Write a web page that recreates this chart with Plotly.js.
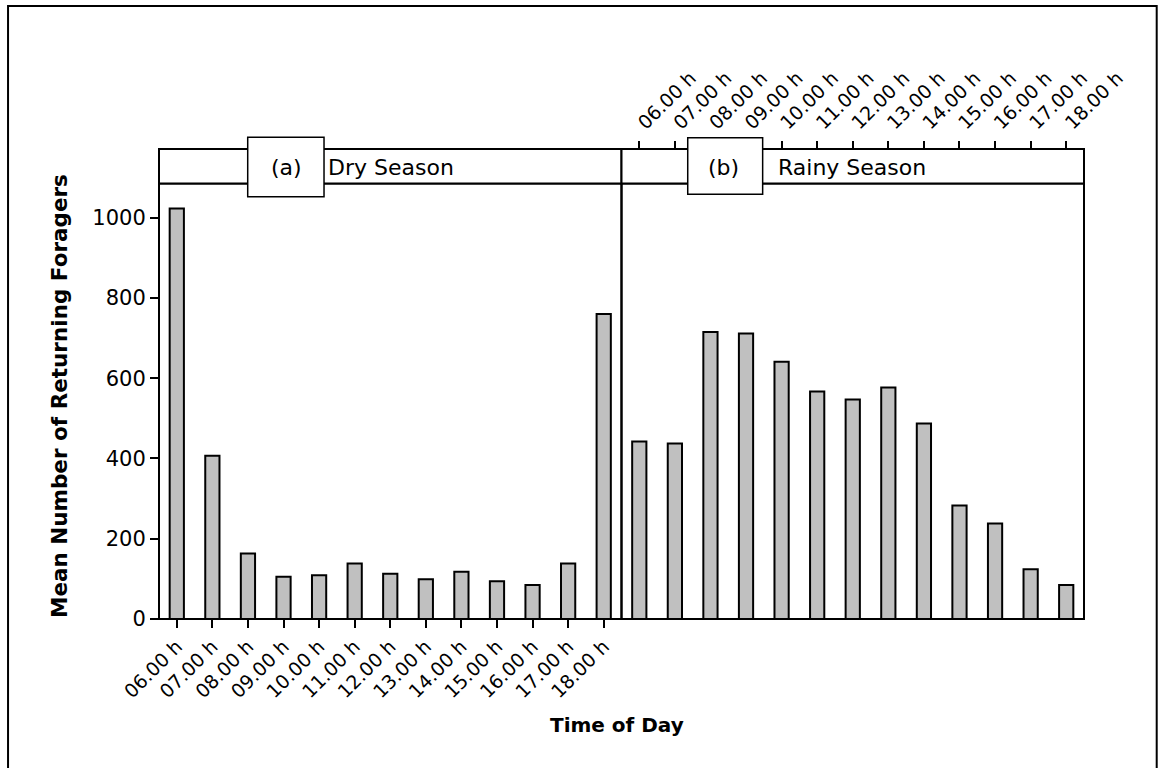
<!DOCTYPE html>
<html>
<head>
<meta charset="utf-8">
<script src="https://cdn.plot.ly/plotly-3.0.1.min.js"></script>
<style>html,body{margin:0;padding:0;background:#fff;}#chart{width:1158px;height:768px;}</style>
</head>
<body>
<div id="chart"></div>
<script>
const hours = ["06.00 h","07.00 h","08.00 h","09.00 h","10.00 h","11.00 h","12.00 h","13.00 h","14.00 h","15.00 h","16.00 h","17.00 h","18.00 h"];
const drySeason = [1023, 407, 163, 105, 109, 138, 113, 99, 118, 94, 85, 138, 760];
const rainySeason = [442, 437, 715, 711, 641, 567, 547, 577, 487, 283, 238, 124, 85];
const yTicks = [0, 200, 400, 600, 800, 1000];
const panelLabels = ["(a)", "(b)"];
const panelTitles = ["Dry Season", "Rainy Season"];

const FONT = "DejaVu Sans, Verdana, sans-serif";
const yTop = 0.9266;

const barStyle = {color: "#c0c0c0", line: {color: "#000", width: 2}};

const traces = [
  {type: "bar", x: hours, y: drySeason, xaxis: "x", yaxis: "y", width: 0.4, marker: barStyle, hoverinfo: "x+y"},
  {type: "bar", x: hours, y: rainySeason, xaxis: "x2", yaxis: "y", width: 0.4, marker: barStyle, hoverinfo: "x+y"}
];

const shapes = [
  {type: "rect", xref: "paper", yref: "paper", x0: -0.1632, x1: 1.0786, y0: -0.4, y1: 1.3043, line: {color: "#000", width: 2}, fillcolor: "rgba(0,0,0,0)", layer: "above"},
  {type: "rect", xref: "paper", yref: "paper", x0: 0, x1: 0.5, y0: 0, y1: yTop, line: {color: "#000", width: 2}, layer: "above"},
  {type: "rect", xref: "paper", yref: "paper", x0: 0.5, x1: 1, y0: 0, y1: yTop, line: {color: "#000", width: 2}, layer: "above"},
  {type: "rect", xref: "paper", yref: "paper", x0: 0, x1: 0.5, y0: yTop, y1: 1, line: {color: "#000", width: 2}, fillcolor: "#fff", layer: "above"},
  {type: "rect", xref: "paper", yref: "paper", x0: 0.5, x1: 1, y0: yTop, y1: 1, line: {color: "#000", width: 2}, fillcolor: "#fff", layer: "above"},
  {type: "rect", xref: "paper", yref: "paper", x0: 0.0959, x1: 0.1784, y0: 0.8985, y1: 1.0249, line: {color: "#000", width: 1.5}, fillcolor: "#fff", layer: "above"},
  {type: "rect", xref: "paper", yref: "paper", x0: 0.5716, x1: 0.6526, y0: 0.9036, y1: 1.0240, line: {color: "#000", width: 1.5}, fillcolor: "#fff", layer: "above"}
];

const annFont = {family: FONT, size: 22, color: "#000"};
const annotations = [
  {xref: "paper", yref: "paper", x: 0.1373, y: 0.9617, text: panelLabels[0], showarrow: false, xanchor: "center", yanchor: "middle", font: annFont},
  {xref: "paper", yref: "paper", x: 0.1805, y: 0.9617, text: panelTitles[0], showarrow: false, xanchor: "left", yanchor: "middle", font: annFont},
  {xref: "paper", yref: "paper", x: 0.6108, y: 0.9617, text: panelLabels[1], showarrow: false, xanchor: "center", yanchor: "middle", font: annFont},
  {xref: "paper", yref: "paper", x: 0.667, y: 0.9617, text: panelTitles[1], showarrow: false, xanchor: "left", yanchor: "middle", font: annFont},
  {xref: "paper", yref: "paper", x: 0.495, y: -0.2255, text: "<b>Time of Day</b>", showarrow: false, xanchor: "center", yanchor: "middle", font: {family: FONT, size: 20, color: "#000"}},
  {xref: "paper", yref: "paper", x: -0.1070, y: 0.4745, text: "<b>Mean Number of Returning Foragers</b>", showarrow: false, textangle: -90, xanchor: "center", yanchor: "middle", font: {family: FONT, size: 21.5, color: "#000"}}
];

const tickFont = {family: FONT, size: 19, color: "#000"};

const layout = {
  width: 1158, height: 768,
  margin: {l: 159, r: 74, t: 149, b: 149, pad: 0},
  paper_bgcolor: "#fff", plot_bgcolor: "#fff",
  showlegend: false,
  font: {family: FONT, color: "#000"},
  xaxis: {domain: [0, 0.5], anchor: "y", type: "category", categoryarray: hours, range: [-0.5, 12.5],
          showline: false, showgrid: false, zeroline: false, ticks: "outside", ticklen: 8, tickwidth: 2, tickcolor: "#000",
          tickangle: -45, tickfont: tickFont, fixedrange: true},
  xaxis2: {domain: [0.5, 1], anchor: "free", position: 1, side: "top", type: "category", categoryarray: hours, range: [-0.5, 12.5],
          showline: false, showgrid: false, zeroline: false, ticks: "outside", ticklen: 8, tickwidth: 2, tickcolor: "#000",
          tickangle: -45, tickfont: tickFont, fixedrange: true},
  yaxis: {domain: [0, yTop], anchor: "x", range: [0, 1085], tickvals: yTicks, ticktext: yTicks.map(String),
          showline: false, showgrid: false, zeroline: false, ticks: "outside", ticklen: 8, tickwidth: 2, tickcolor: "#000",
          tickfont: {family: FONT, size: 21, color: "#000"}, fixedrange: true},
  shapes: shapes,
  annotations: annotations
};

Plotly.newPlot("chart", traces, layout, {displayModeBar: false, staticPlot: true});
</script>
</body>
</html>
